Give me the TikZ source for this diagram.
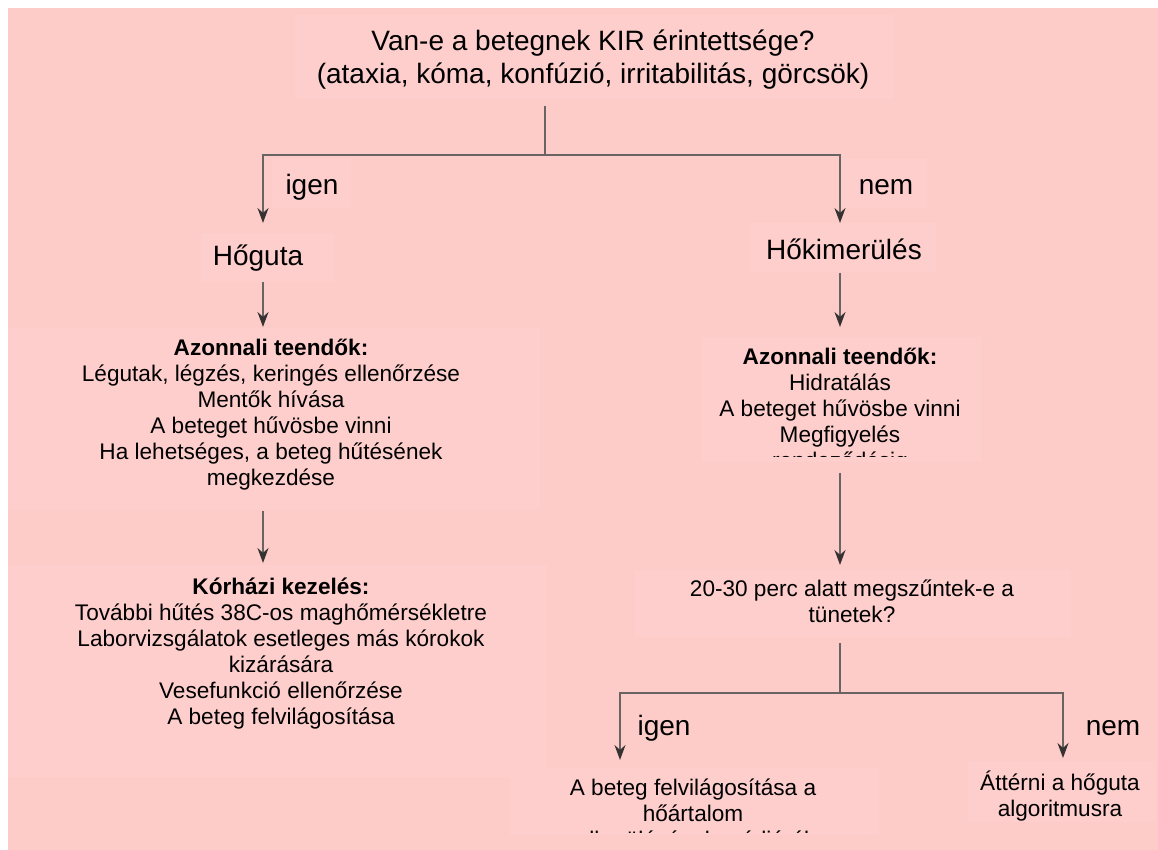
\documentclass[tikz,border=0pt]{standalone}
\usepackage{fontspec}
\setmainfont{Liberation Sans}
\usetikzlibrary{arrows.meta}
\definecolor{bgpink}{RGB}{253,203,200}
\definecolor{boxpink}{RGB}{254,206,204}
\definecolor{linegray}{RGB}{105,100,100}
\definecolor{headgray}{RGB}{55,50,50}
\begin{document}
\begin{tikzpicture}[x=0.5pt,y=-0.5pt,
  big/.style={font=\fontsize{14}{16.5}\selectfont, inner sep=0pt, align=center},
  small/.style={font=\fontsize{11.3}{13}\selectfont, inner sep=0pt, align=center},
  conn/.style={draw=linegray, line width=0.8pt},
  arr/.style={conn, -{Stealth[length=7.5pt,width=5.5pt,color=headgray]}},
  panel/.style={fill=boxpink, draw=none}]
\useasboundingbox (0,0) rectangle (1158,850);
\fill[bgpink] (8,8) rectangle (1158,850);
% light panels
\fill[panel] (295,15) rectangle (894,99);
\fill[panel] (272,159) rectangle (351,208);
\fill[panel] (842,159) rectangle (927,208);
\fill[panel] (201,233) rectangle (334,282);
\fill[panel] (750,223) rectangle (936,272);
\fill[panel] (8,328) rectangle (540,510);
\fill[panel] (8,565) rectangle (547,777);
\fill[panel] (701,337) rectangle (981,462);
\fill[panel] (635,570) rectangle (1071,637);
\fill[panel] (510,768) rectangle (879,835);
\fill[panel] (968,761) rectangle (1156,822);
% texts
\node[big] (q1) at (593,60) {Van-e a betegnek KIR érintettsége?\\(ataxia, kóma, konfúzió, irritabilitás, görcsök)};
\node[big] (igen1) at (312,187) {igen};
\node[big] (nem1) at (886,187) {nem};
\node[big] (hoguta) at (258,258) {Hőguta};
\node[big] (hokim) at (844,249) {Hőkimerülés};
\node[small] (azl) at (271,415) {\textbf{Azonnali teendők:}\\Légutak, légzés, keringés ellenőrzése\\Mentők hívása\\A beteget hűvösbe vinni\\Ha lehetséges, a beteg hűtésének\\megkezdése};
\node[small] (korh) at (281,654) {\textbf{Kórházi kezelés:}\\További hűtés 38C-os maghőmérsékletre\\Laborvizsgálatok esetleges más kórokok\\kizárására\\Vesefunkció ellenőrzése\\A beteg felvilágosítása};
\begin{scope}
\clip (701,330) rectangle (981,457);
\node[small] (azr) at (840,411) {\textbf{Azonnali teendők:}\\Hidratálás\\A beteget hűvösbe vinni\\Megfigyelés\\rendeződésig};
\end{scope}
\node[small] (q2) at (852,601) {20-30 perc alatt megszűntek-e a\\tünetek?};
\node[big] (igen2) at (664,728) {igen};
\node[big] (nem2) at (1113,728) {nem};
\begin{scope}
\clip (510,760) rectangle (879,832);
\node[small] (info) at (693,816) {A beteg felvilágosítása a\\hőártalom\\elkerülésének módjáról};
\end{scope}
\node[small] (atter) at (1060,796) {Áttérni a hőguta\\algoritmusra};
% connectors
\coordinate (t0) at (545,106);
\coordinate (t1) at (545,155);
\coordinate (tla) at (263,223);
\coordinate (tra) at (840,223);
\draw[arr] (t0) -- (t1) -| (tla);
\draw[arr] (t1) -| (tra);
\coordinate (a1) at (263,282);
\coordinate (a2) at (263,327);
\coordinate (a3) at (263,511);
\coordinate (a4) at (263,563);
\draw[arr] (a1) -- (a2);
\draw[arr] (a3) -- (a4);
\coordinate (b1) at (840,273);
\coordinate (b2) at (840,327);
\coordinate (b3) at (840,473);
\coordinate (b4) at (840,565);
\draw[arr] (b1) -- (b2);
\draw[arr] (b3) -- (b4);
\coordinate (c0) at (840,643);
\coordinate (c1) at (840,693);
\coordinate (c2) at (620,760);
\coordinate (c3) at (1063,758);
\draw[arr] (c0) -- (c1) -| (c2);
\draw[arr] (c1) -| (c3);
\end{tikzpicture}
\end{document}
